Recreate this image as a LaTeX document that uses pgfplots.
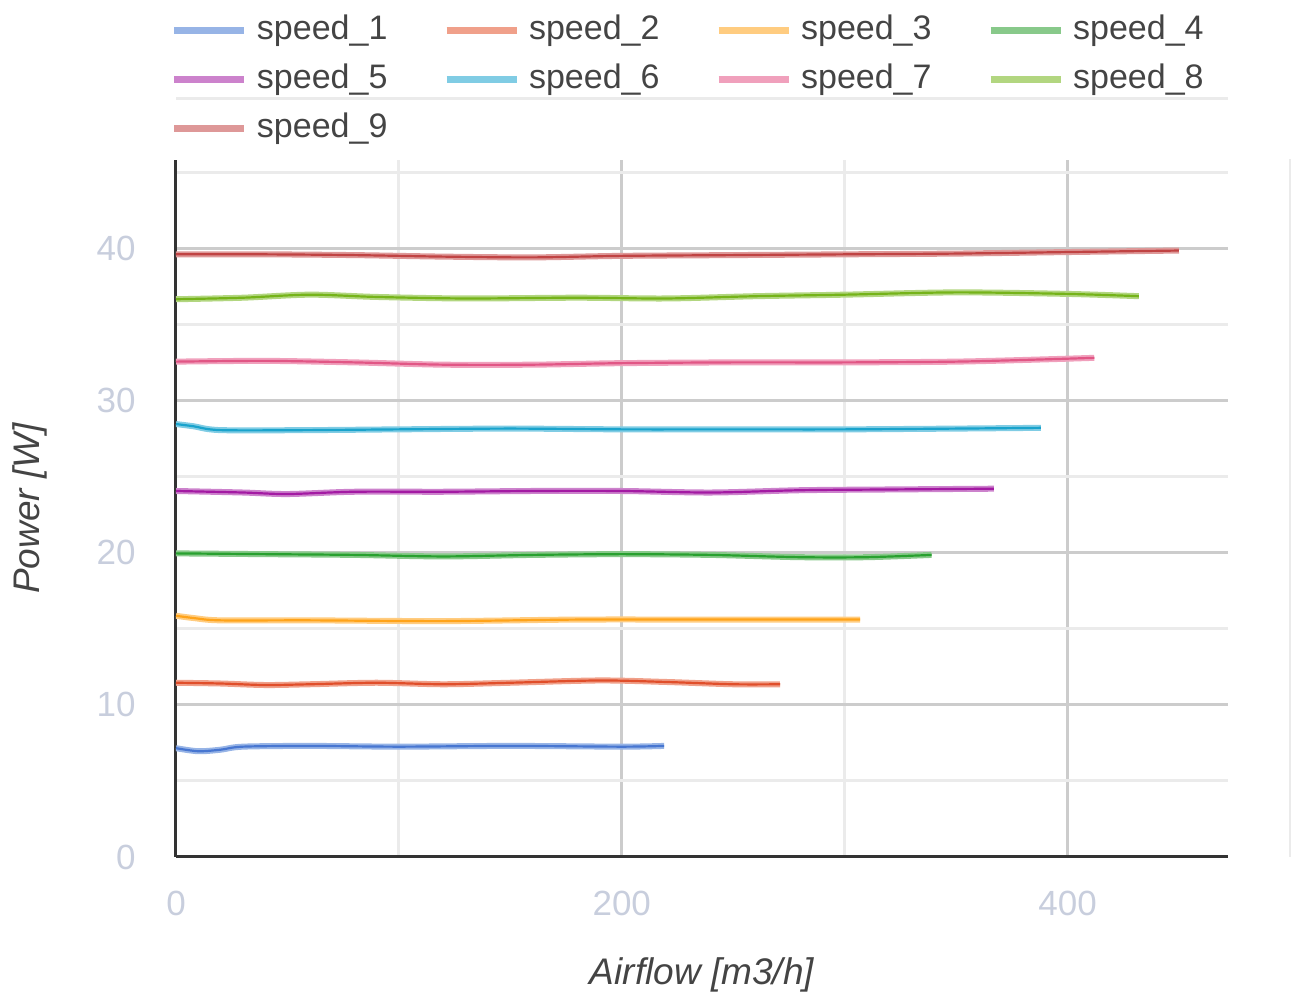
\documentclass[border=0pt]{standalone}
\usepackage{fontspec}
\setmainfont{Liberation Sans}
\usepackage{pgfplots}
\usepackage{pgfplotstable}
\pgfplotsset{compat=1.18}

\definecolor{cAl}{HTML}{97B4E6}\definecolor{cAd}{HTML}{3366CC}
\definecolor{cBl}{HTML}{F0A08A}\definecolor{cBd}{HTML}{DC3912}
\definecolor{cCl}{HTML}{FFCC80}\definecolor{cCd}{HTML}{FF9900}
\definecolor{cDl}{HTML}{88C98A}\definecolor{cDd}{HTML}{109618}
\definecolor{cEl}{HTML}{CC82CC}\definecolor{cEd}{HTML}{990099}
\definecolor{cFl}{HTML}{80CCE4}\definecolor{cFd}{HTML}{0099C6}
\definecolor{cGl}{HTML}{F0A0BC}\definecolor{cGd}{HTML}{DD4477}
\definecolor{cHl}{HTML}{B2D680}\definecolor{cHd}{HTML}{66AA00}
\definecolor{cIl}{HTML}{DE9898}\definecolor{cId}{HTML}{B82E2E}
\definecolor{majgrid}{HTML}{CCCCCC}
\definecolor{mingrid}{HTML}{EBEBEB}
\definecolor{axline}{HTML}{333333}
\definecolor{ticktext}{HTML}{C8CEDD}
\definecolor{labeltext}{HTML}{444444}

\pgfplotstableread{
x y
0 7.15
10 6.95
20 7.05
30 7.25
60 7.3
100 7.25
150 7.3
200 7.25
219 7.3
}\sA
\pgfplotstableread{
x y
0 11.45
20 11.4
40 11.3
60 11.35
90 11.45
120 11.35
150 11.45
190 11.6
220 11.5
250 11.35
271 11.35
}\sB
\pgfplotstableread{
x y
0 15.85
8 15.7
20 15.55
60 15.55
120 15.5
180 15.6
240 15.6
307 15.6
}\sC
\pgfplotstableread{
x y
0 19.95
40 19.9
80 19.85
120 19.75
160 19.85
200 19.9
240 19.85
280 19.7
310 19.7
339 19.85
}\sD
\pgfplotstableread{
x y
0 24.05
30 23.95
50 23.85
80 24.0
120 24.0
160 24.05
200 24.05
240 23.95
280 24.1
320 24.15
367 24.2
}\sE
\pgfplotstableread{
x y
0 28.45
8 28.3
20 28.05
60 28.05
100 28.1
150 28.15
200 28.1
250 28.1
300 28.1
350 28.15
388 28.2
}\sF
\pgfplotstableread{
x y
0 32.55
40 32.6
80 32.5
120 32.35
160 32.35
200 32.45
250 32.5
300 32.5
350 32.55
390 32.7
412 32.8
}\sG
\pgfplotstableread{
x y
0 36.65
30 36.75
60 36.95
90 36.8
130 36.7
180 36.75
220 36.7
260 36.85
300 36.95
350 37.1
400 37.0
432 36.85
}\sH
\pgfplotstableread{
x y
0 39.6
40 39.6
80 39.55
120 39.45
160 39.4
200 39.5
250 39.55
300 39.6
350 39.65
400 39.75
450 39.85
}\sI

\begin{document}
\begin{tikzpicture}
\useasboundingbox (-88pt,-72pt) rectangle (558pt,428.5pt);
\begin{axis}[
  name=ax,
  at={(0,0)}, anchor=south west,
  scale only axis, width=526pt, height=348.5pt,
  xmin=0, xmax=472, ymin=0, ymax=45.8,
  xtick={0,200,400}, minor xtick={100,300},
  ytick={0,10,20,30,40}, minor ytick={5,15,25,35,45},
  grid=both,
  major grid style={draw=majgrid, line width=1.5pt},
  minor grid style={draw=mingrid, line width=1.5pt},
  major tick length=0pt, minor tick length=0pt,
  axis x line*=bottom, axis y line*=left,
  axis line style={draw=axline, line width=1.5pt, -},
  /pgf/number format/assume math mode=true,
  tick label style={font=\fontsize{17.5}{17.5}\selectfont, text=ticktext},
  xticklabel style={anchor=center, inner sep=0pt, yshift=-23pt},
  yticklabel style={anchor=east, inner sep=0pt, xshift=-20pt},
  xlabel={Airflow [m3/h]},
  ylabel={Power [W]},
  every axis x label/.style={at={(axis description cs:0.5,0)}, anchor=center, yshift=-59pt,
    font=\fontsize{18.5}{18.5}\selectfont\itshape, text=labeltext},
  every axis y label/.style={at={(axis description cs:0,0.5)}, xshift=-73pt, rotate=90, anchor=center,
    font=\fontsize{18.5}{18.5}\selectfont\itshape, text=labeltext},
  legend columns=4,
  legend cell align=left,
  legend image code/.code={\draw[#1, line width=3.5pt] (0pt,0pt) -- (35pt,0pt);},
  legend style={draw=none, fill=none, at={(0,1)}, anchor=north west, yshift=73pt, xshift=-2.5pt,
    inner sep=0pt, outer sep=0pt,
    font=\fontsize{17}{17}\selectfont, text=labeltext,
    nodes={inner sep=0pt, text height=13pt, text depth=4pt},
    row sep=7.4pt,
    /tikz/every odd column/.append style={column sep=4.5pt},
    /tikz/every even column/.append style={column sep=27.8pt}},
]
\addplot[cAl, line width=3pt, smooth] table {\sA}; \addlegendentry{speed\_1}
\addplot[cAd!80!cAl, line width=1.1pt, smooth, forget plot] table {\sA};
\addplot[cBl, line width=3pt, smooth] table {\sB}; \addlegendentry{speed\_2}
\addplot[cBd!80!cBl, line width=1.1pt, smooth, forget plot] table {\sB};
\addplot[cCl, line width=3pt, smooth] table {\sC}; \addlegendentry{speed\_3}
\addplot[cCd!80!cCl, line width=1.1pt, smooth, forget plot] table {\sC};
\addplot[cDl, line width=3pt, smooth] table {\sD}; \addlegendentry{speed\_4}
\addplot[cDd!80!cDl, line width=1.1pt, smooth, forget plot] table {\sD};
\addplot[cEl, line width=3pt, smooth] table {\sE}; \addlegendentry{speed\_5}
\addplot[cEd!80!cEl, line width=1.1pt, smooth, forget plot] table {\sE};
\addplot[cFl, line width=3pt, smooth] table {\sF}; \addlegendentry{speed\_6}
\addplot[cFd!80!cFl, line width=1.1pt, smooth, forget plot] table {\sF};
\addplot[cGl, line width=3pt, smooth] table {\sG}; \addlegendentry{speed\_7}
\addplot[cGd!80!cGl, line width=1.1pt, smooth, forget plot] table {\sG};
\addplot[cHl, line width=3pt, smooth] table {\sH}; \addlegendentry{speed\_8}
\addplot[cHd!80!cHl, line width=1.1pt, smooth, forget plot] table {\sH};
\addplot[cIl, line width=3pt, smooth] table {\sI}; \addlegendentry{speed\_9}
\addplot[cId!80!cIl, line width=1.1pt, smooth, forget plot] table {\sI};
\end{axis}
\draw[mingrid, line width=1.5pt] (0pt,379pt) -- (526pt,379pt);
\draw[mingrid, line width=1pt] (557pt,0pt) -- (557pt,349pt);
\end{tikzpicture}
\end{document}
